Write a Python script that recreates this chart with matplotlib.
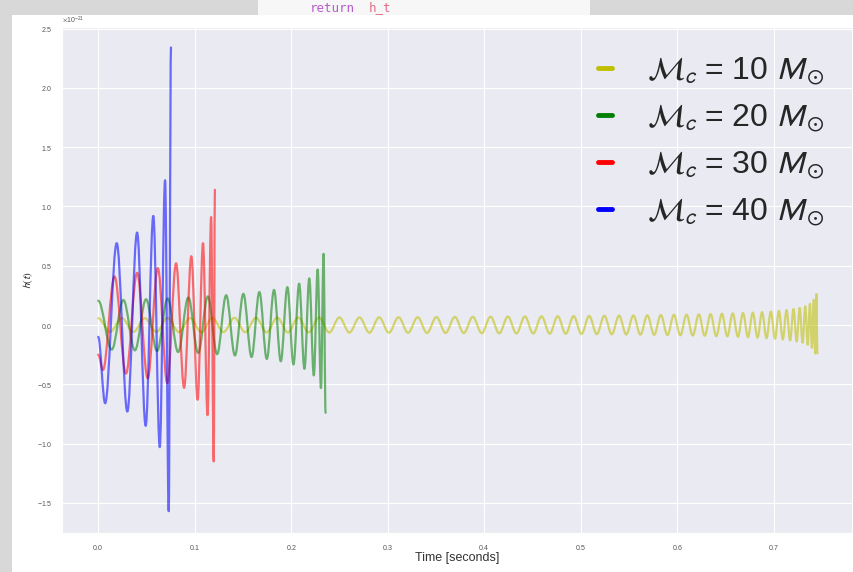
import matplotlib
matplotlib.use("Agg")
import matplotlib.pyplot as plt
import seaborn as sns
from matplotlib.path import Path
from matplotlib.patches import PathPatch, Rectangle
from matplotlib.lines import Line2D

# extrema of each waveform (time in s, h in units of 1e-21)
SCALE = 1e-21

t_10 = [0.0000, 0.0123, 0.0245, 0.0365, 0.0483, 0.0602, 0.0719, 0.0837, 0.0953, 0.1069,
        0.1183, 0.1298, 0.1411, 0.1523, 0.1635, 0.1745, 0.1855, 0.1965, 0.2073, 0.2181,
        0.2288, 0.2394, 0.2499, 0.2603, 0.2707, 0.2810, 0.2911, 0.3012, 0.3112, 0.3211,
        0.3310, 0.3407, 0.3504, 0.3599, 0.3695, 0.3788, 0.3881, 0.3974, 0.4065, 0.4155,
        0.4245, 0.4333, 0.4421, 0.4507, 0.4593, 0.4678, 0.4761, 0.4844, 0.4926, 0.5007,
        0.5087, 0.5166, 0.5244, 0.5321, 0.5397, 0.5471, 0.5545, 0.5618, 0.5689, 0.5760,
        0.5829, 0.5898, 0.5965, 0.6031, 0.6096, 0.6160, 0.6223, 0.6284, 0.6345, 0.6404,
        0.6462, 0.6518, 0.6574, 0.6628, 0.6681, 0.6732, 0.6782, 0.6831, 0.6878, 0.6924,
        0.6969, 0.7012, 0.7053, 0.7093, 0.7132, 0.7169, 0.7204, 0.7237, 0.7268, 0.7298,
        0.7326, 0.7351, 0.7374, 0.7395, 0.7414, 0.7429, 0.7442, 0.7451]
h_10 = [0.057, -0.057, 0.058, -0.058, 0.058, -0.058, 0.059, -0.059, 0.059, -0.060,
        0.060, -0.060, 0.061, -0.061, 0.061, -0.062, 0.062, -0.062, 0.063, -0.063,
        0.063, -0.064, 0.064, -0.064, 0.064, -0.065, 0.065, -0.065, 0.066, -0.066,
        0.066, -0.067, 0.067, -0.067, 0.068, -0.068, 0.069, -0.069, 0.070, -0.070,
        0.071, -0.071, 0.072, -0.072, 0.073, -0.073, 0.074, -0.074, 0.075, -0.076,
        0.076, -0.077, 0.078, -0.078, 0.079, -0.080, 0.080, -0.081, 0.082, -0.083,
        0.084, -0.085, 0.086, -0.087, 0.088, -0.089, 0.090, -0.091, 0.092, -0.094,
        0.095, -0.096, 0.098, -0.099, 0.101, -0.102, 0.104, -0.106, 0.108, -0.111,
        0.113, -0.116, 0.119, -0.122, 0.126, -0.130, 0.134, -0.139, 0.144, -0.150,
        0.158, -0.167, 0.178, -0.192, 0.212, -0.240, 0.260, -0.240]

t_20 = [0.0, 0.0140, 0.0261, 0.0380, 0.0496, 0.0610, 0.0720, 0.0828, 0.0934, 0.1036,
        0.1136, 0.1232, 0.1326, 0.1417, 0.1504, 0.1589, 0.1670, 0.1747, 0.1822, 0.1892,
        0.1960, 0.2023, 0.2082, 0.2137, 0.2187, 0.2234, 0.2274, 0.2308, 0.2335, 0.2356]
h_20 = [0.205, -0.208, 0.211, -0.214, 0.217, -0.220, 0.224, -0.228, 0.232, -0.236,
        0.241, -0.246, 0.251, -0.257, 0.263, -0.270, 0.278, -0.286, 0.296, -0.306,
        0.319, -0.333, 0.349, -0.369, 0.393, -0.425, 0.468, -0.531, 0.600, -0.740]

t_30 = [0.0, 0.0049, 0.0169, 0.0288, 0.0403, 0.0513, 0.0618, 0.0716, 0.0807,
        0.0890, 0.0965, 0.1030, 0.1086, 0.1133, 0.1170, 0.1197, 0.1209]
h_30 = [-0.25, -0.38, 0.41, -0.41, 0.44, -0.45, 0.48, -0.49, 0.52,
        -0.53, 0.58, -0.63, 0.69, -0.76, 0.91, -1.15, 1.14]

t_40 = [0.0, 0.0072, 0.0192, 0.0302, 0.0403, 0.0492, 0.0571, 0.0638, 0.0693, 0.0731, 0.0754]
h_40 = [-0.10, -0.66, 0.69, -0.73, 0.78, -0.85, 0.92, -1.03, 1.22, -1.57, 2.34]

masses = [10, 20, 30, 40]
colors = ["y", "g", "r", "b"]


def chirp_path(t, h):
    # smooth curve through the extrema (bezier segments)
    verts = [(t[0], h[0] * SCALE)]
    codes = [Path.MOVETO]
    for i in range(1, len(t)):
        k = 0.36 * (t[i] - t[i - 1])
        verts += [(t[i - 1] + k, h[i - 1] * SCALE), (t[i] - k, h[i] * SCALE), (t[i], h[i] * SCALE)]
        codes += [Path.CURVE4] * 3
    return Path(verts, codes)


sns.set_style("darkgrid", {"grid.linewidth": 0.7})
plt.rcParams["font.family"] = ["Liberation Sans", "DejaVu Sans"]
plt.rcParams["mathtext.fontset"] = "stixsans"
plt.rcParams["axes.formatter.use_mathtext"] = True

fig = plt.figure(figsize=(8.54, 5.72), dpi=100)
fig.patch.set_facecolor("#d8d8d8")
fig.patches.append(Rectangle((12 / 854, 0), 1, 1 - 15 / 572, transform=fig.transFigure,
                             facecolor="white", edgecolor="none", zorder=-1))
fig.patches.append(Rectangle((258 / 854, 1 - 15 / 572), 332 / 854, 15 / 572, transform=fig.transFigure,
                             facecolor="#f7f7f7", edgecolor="none", zorder=-1))
fig.text(310 / 854, 1 - 8 / 572, "return", family="DejaVu Sans Mono", fontsize=9,
         color="#b65ccc", va="center")
fig.text(369 / 854, 1 - 8 / 572, "h_t", family="DejaVu Sans Mono", fontsize=9,
         color="#e0708a", va="center")

ax = fig.add_axes([62 / 854, 1 - 533 / 572, 790 / 854, 506 / 572])

series = [(t_10, h_10), (t_20, h_20), (t_30, h_30), (t_40, h_40)]
handles = []
for (t, h), m, c in zip(series, masses, colors):
    ax.add_patch(PathPatch(chirp_path(t, h), fill=False, edgecolor=c, lw=1.6, alpha=0.55,
                           joinstyle="round", capstyle="round"))
    handles.append(Line2D([], [], color=c, lw=3.5,
                          label=r"$\mathcal{M}_c$ = %d $M_\odot$" % m))

ax.set_xlim(-0.0375, 0.781)
ax.set_ylim(-1.754 * SCALE, 2.513 * SCALE)
ax.tick_params(labelsize=5, colors="#555555")
ax.yaxis.get_offset_text().set_fontsize(5)
ax.set_xlabel("Time [seconds]", fontsize=9, color="#333333", labelpad=0)
ax.set_ylabel(r"$h(t)$", fontsize=8, color="#333333", labelpad=1)

ax.legend(handles=handles, loc="upper right", bbox_to_anchor=(0.982, 0.968), borderaxespad=0,
          frameon=False, fontsize=23, handlelength=0.45, handletextpad=1.1, labelspacing=0.5)

plt.savefig("out.png", dpi=100, facecolor=fig.get_facecolor())
